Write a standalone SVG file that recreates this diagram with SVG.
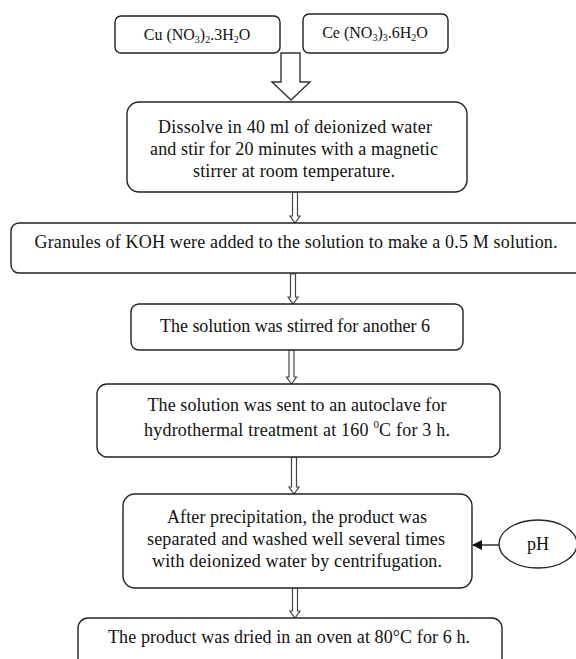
<svg xmlns="http://www.w3.org/2000/svg" width="576" height="659" viewBox="0 0 576 659">
<style>
.box{fill:#fff;stroke:#222;stroke-width:1.4}
.t{font-family:"Liberation Serif","Times New Roman",serif;font-size:18px;fill:#111;text-anchor:middle}
.f{font-family:"Liberation Serif","Times New Roman",serif;font-size:16px;fill:#111;text-anchor:middle}
.arr{fill:#fff;stroke:#444;stroke-width:1.2}
.big{fill:#fff;stroke:#333;stroke-width:1.4}
</style>
<defs>
<marker id="ah" markerWidth="10" markerHeight="10" refX="9" refY="5" orient="auto" markerUnits="userSpaceOnUse">
<path d="M0,0 L10,5 L0,10 Z" fill="#111"/>
</marker>
</defs>
<rect width="576" height="659" fill="#fff"/>
<g id="connectors">
<path class="big" d="M281,53 L300,53 L300,82 L310,82 L291,100 L272,82 L281,82 Z"/>
<path class="arr" d="M292.5,192 L297.5,192 L297.5,216 L300,216 L295,223 L290,216 L292.5,216 Z"/>
<path class="arr" d="M290.5,274 L295.5,274 L295.5,297 L298,297 L293,304 L288,297 L290.5,297 Z"/>
<path class="arr" d="M289,350 L294,350 L294,377 L296.5,377 L291.5,384 L286.5,377 L289,377 Z"/>
<path class="arr" d="M291.5,457 L296.5,457 L296.5,487 L299,487 L294,494 L289,487 L291.5,487 Z"/>
<path class="arr" d="M292.5,588 L297.5,588 L297.5,611 L300,611 L295,618 L290,611 L292.5,611 Z"/>
<line x1="499" y1="545" x2="473" y2="545" stroke="#111" stroke-width="1.3" marker-end="url(#ah)"/>
</g>
<g id="cu">
<rect class="box" x="115" y="16" width="165" height="37" rx="6"/>
<text class="f" x="197" y="40">Cu (NO<tspan font-size="10" dy="3">3</tspan><tspan dy="-3">)</tspan><tspan font-size="10" dy="3">2</tspan><tspan dy="-3">.3H</tspan><tspan font-size="10" dy="3">2</tspan><tspan dy="-3">O</tspan></text>
</g>
<g id="ce">
<rect class="box" x="303" y="14" width="145" height="39" rx="6"/>
<text class="f" x="375" y="38">Ce (NO<tspan font-size="10" dy="3">3</tspan><tspan dy="-3">)</tspan><tspan font-size="10" dy="3">3</tspan><tspan dy="-3">.6H</tspan><tspan font-size="10" dy="3">2</tspan><tspan dy="-3">O</tspan></text>
</g>
<g id="dissolve">
<rect class="box" x="127" y="102" width="340" height="90" rx="12"/>
<text class="t" x="295" y="133" textLength="274">Dissolve in 40 ml of deionized water</text>
<text class="t" x="294" y="155" textLength="288">and stir for 20 minutes with a magnetic</text>
<text class="t" x="294" y="177" textLength="202">stirrer at room temperature.</text>
</g>
<g id="koh">
<rect class="box" x="11" y="223" width="600" height="50" rx="8"/>
<text class="t" x="296" y="248" textLength="523">Granules of KOH  were added to the solution to make a 0.5 M solution.</text>
</g>
<g id="stirred">
<rect class="box" x="131" y="304" width="332" height="46" rx="8"/>
<text class="t" x="295" y="332" textLength="270">The solution was stirred  for another 6</text>
</g>
<g id="autoclave">
<rect class="box" x="97" y="384" width="403" height="73" rx="10"/>
<text class="t" x="297" y="411" textLength="299">The solution was sent to an autoclave for</text>
<text class="t" x="297" y="436" textLength="306">hydrothermal treatment at 160 <tspan font-size="11" dy="-8">0</tspan><tspan dy="8">C for 3 h.</tspan></text>
</g>
<g id="wash">
<rect class="box" x="123" y="494" width="349" height="94" rx="12"/>
<text class="t" x="297" y="523" textLength="260">After precipitation, the product was</text>
<text class="t" x="296" y="545" textLength="298">separated and washed  well several times</text>
<text class="t" x="297" y="567" textLength="290">with deionized water by centrifugation.</text>
</g>
<g id="ph">
<ellipse cx="538" cy="544" rx="39" ry="24" fill="#fff" stroke="#222" stroke-width="1.3"/>
<text class="t" x="538" y="550">pH</text>
</g>
<g id="dried">
<rect class="box" x="78" y="618" width="424" height="60" rx="10"/>
<text class="t" x="289" y="643" textLength="362">The product was dried in an oven at 80°C for 6 h.</text>
</g>
</svg>
